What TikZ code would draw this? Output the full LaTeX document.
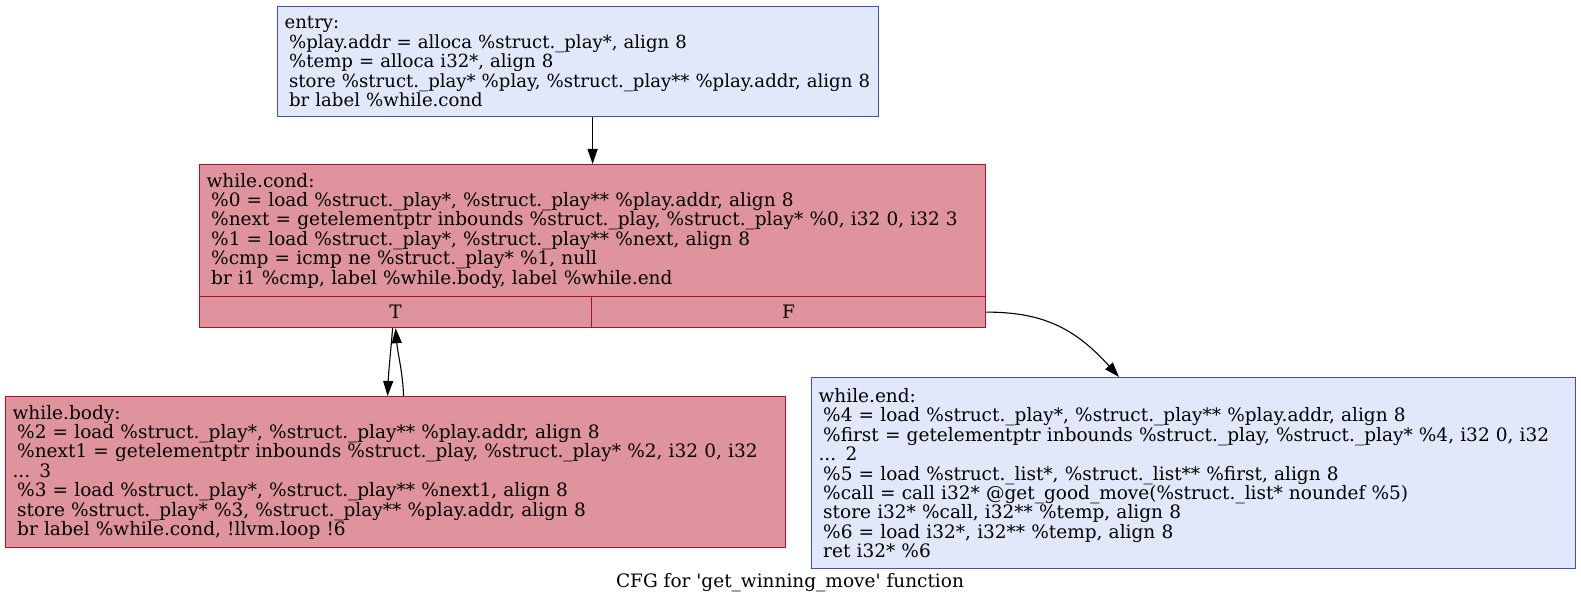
\documentclass[tikz,border=0pt]{standalone}
\usepackage{fontspec}
\setmainfont{DejaVu Serif}
\usetikzlibrary{arrows.meta}
\definecolor{redfill}{HTML}{DF939C}
\definecolor{reddraw}{HTML}{B70D28}
\definecolor{bluefill}{HTML}{E0E8FA}
\definecolor{bluedraw}{HTML}{3D50C3}
\newcommand\ind{\hspace*{0.25em}}
\newcommand\cl[1]{\mbox{#1}}
\newcommand\bfs{\fontsize{18.5}{19.4}\selectfont}
\tikzset{
  blk/.style={draw, line width=1.2pt, anchor=north west, inner xsep=7pt, inner ysep=0pt,
    align=left, font=\bfs},
  hot/.style={blk, draw=reddraw, fill=redfill},
  cold/.style={blk, draw=bluedraw, fill=bluefill},
  port/.style={draw=reddraw, fill=redfill, line width=1.2pt, anchor=north west, inner sep=0pt,
    minimum height=31pt, font=\bfs},
  edge/.style={-{Triangle[length=15pt,width=10pt]}, line width=1.1pt}
}
\begin{document}
\begin{tikzpicture}[x=1pt,y=-1pt]
\useasboundingbox (0,0) rectangle (1581,604);
\node[cold, minimum width=601pt, minimum height=110pt, text width=587pt,
  font=\fontsize{18.1}{19.4}\selectfont] (entry) at (277,6)
{\cl{entry:}\\
\cl{\ind\%play.addr = alloca \%struct.\_play*, align 8}\\
\cl{\ind\%temp = alloca i32*, align 8}\\
\cl{\ind store \%struct.\_play* \%play, \%struct.\_play** \%play.addr, align 8}\\
\cl{\ind br label \%while.cond}};
\node[hot, minimum width=786pt, minimum height=132pt, text width=772pt] (cond) at (199,164)
{\cl{while.cond:}\\
\cl{\ind\%0 = load \%struct.\_play*, \%struct.\_play** \%play.addr, align 8}\\
\cl{\ind\%next = getelementptr inbounds \%struct.\_play, \%struct.\_play* \%0, i32 0, i32 3}\\
\cl{\ind\%1 = load \%struct.\_play*, \%struct.\_play** \%next, align 8}\\
\cl{\ind\%cmp = icmp ne \%struct.\_play* \%1, null}\\
\cl{\ind br i1 \%cmp, label \%while.body, label \%while.end}};
\node[port, minimum width=392pt] (condT) at (199,296) {T};
\node[port, minimum width=394pt] (condF) at (591,296) {F};
\node[hot, minimum width=780pt, minimum height=151pt, text width=766pt] (body) at (5,396)
{\cl{while.body:}\\
\cl{\ind\%2 = load \%struct.\_play*, \%struct.\_play** \%play.addr, align 8}\\
\cl{\ind\%next1 = getelementptr inbounds \%struct.\_play, \%struct.\_play* \%2, i32 0, i32}\\
\cl{... 3}\\
\cl{\ind\%3 = load \%struct.\_play*, \%struct.\_play** \%next1, align 8}\\
\cl{\ind store \%struct.\_play* \%3, \%struct.\_play** \%play.addr, align 8}\\
\cl{\ind br label \%while.cond, !llvm.loop !6}};
\node[cold, minimum width=764pt, minimum height=191pt, text width=750pt] (wend) at (811,377)
{\cl{while.end:}\\
\cl{\ind\%4 = load \%struct.\_play*, \%struct.\_play** \%play.addr, align 8}\\
\cl{\ind\%first = getelementptr inbounds \%struct.\_play, \%struct.\_play* \%4, i32 0, i32}\\
\cl{... 2}\\
\cl{\ind\%5 = load \%struct.\_list*, \%struct.\_list** \%first, align 8}\\
\cl{\ind\%call = call i32* @get\_good\_move(\%struct.\_list* noundef \%5)}\\
\cl{\ind store i32* \%call, i32** \%temp, align 8}\\
\cl{\ind\%6 = load i32*, i32** \%temp, align 8}\\
\cl{\ind ret i32* \%6}};
\node[font=\bfs] (caption) at (790,583)
{CFG for \textquotesingle get\_winning\_move\textquotesingle\ function};
\draw[edge] (entry.south -| cond.north) -- (cond.north);
\draw[edge] ([xshift=-3pt]condT.south) .. controls +(-2,25) and +(1,-25) .. ([xshift=-8pt]body.north);
\draw[edge] ([xshift=8pt]body.north) .. controls +(-1,-25) and +(2,25) .. (condT.south);
\draw[edge] (condF.east) .. controls +(55,0) and +(-45,-50) .. ([xshift=308pt]wend.north west);
\end{tikzpicture}
\end{document}
